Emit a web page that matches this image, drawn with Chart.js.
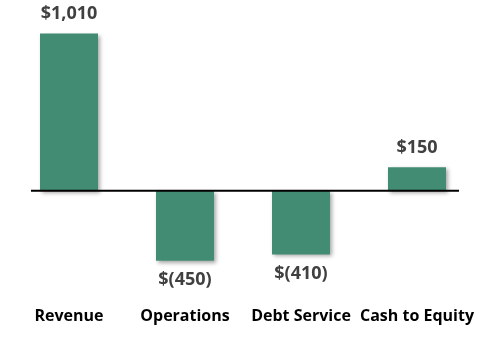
<!DOCTYPE html>
<html>
<head>
<meta charset="utf-8">
<script src="https://cdn.jsdelivr.net/npm/chart.js@4/dist/chart.umd.min.js"></script>
<style>
  html, body { margin: 0; padding: 0; background: #fff; }
  #wrap { width: 500px; height: 346px; }
</style>
</head>
<body>
<div id="wrap"><canvas id="chart" width="500" height="346"></canvas></div>
<script>
// Cash flow breakdown: revenue down to cash left for equity
const categories = ['Revenue', 'Operations', 'Debt Service', 'Cash to Equity'];
const amounts = [1010, -450, -410, 150];

const barColor = '#438c74';

function money(v) {
    const s = Math.abs(v).toLocaleString('en-US');
    return v < 0 ? '$(' + s + ')' : '$' + s;
}

// soft drop shadow under the bars
const barShadow = {
    id: 'barShadow',
    beforeDatasetsDraw(chart) {
        const ctx = chart.ctx;
        ctx.save();
        ctx.shadowColor = 'rgba(0, 0, 0, 0.35)';
        ctx.shadowBlur = 4;
        ctx.shadowOffsetX = 2;
        ctx.shadowOffsetY = 2;
    },
    afterDatasetsDraw(chart) {
        chart.ctx.restore();
    }
};

// black baseline at zero plus the value labels
const baseAndLabels = {
    id: 'baseAndLabels',
    afterDatasetsDraw(chart) {
        const ctx = chart.ctx;
        const area = chart.chartArea;
        const y0 = chart.scales.y.getPixelForValue(0);
        ctx.save();
        ctx.strokeStyle = '#000';
        ctx.lineWidth = 2;
        ctx.beginPath();
        ctx.moveTo(area.left + 20, y0);
        ctx.lineTo(area.right - 16, y0);
        ctx.stroke();

        ctx.fillStyle = '#404040';
        ctx.font = 'bold 18px "Open Sans"';
        ctx.textAlign = 'center';
        ctx.textBaseline = 'middle';
        chart.getDatasetMeta(0).data.forEach((bar, i) => {
            const v = amounts[i];
            const y = v >= 0 ? bar.y - 19.5 : bar.y + 19.5;
            ctx.fillText(money(v), bar.x, y);
        });
        ctx.restore();
    }
};

new Chart(document.getElementById('chart'), {
    type: 'bar',
    data: {
        labels: categories,
        datasets: [{
            data: amounts,
            backgroundColor: barColor,
            borderWidth: 0,
            barPercentage: 1,
            categoryPercentage: 0.5
        }]
    },
    options: {
        responsive: false,
        animation: false,
        layout: { padding: { left: 11, right: 24, top: 4, bottom: 20 } },
        plugins: {
            legend: { display: false },
            tooltip: { enabled: false }
        },
        scales: {
            x: {
                grid: { display: false, drawTicks: false, offset: true },
                border: { display: false },
                afterFit(scale) { scale.height = 42; },
                ticks: {
                    color: '#000',
                    padding: 23,
                    maxRotation: 0,
                    minRotation: 0,
                    autoSkip: false,
                    font: { family: 'Open Sans', size: 16, weight: 'bold' }
                }
            },
            y: {
                display: false,
                min: -600,
                max: 1200
            }
        }
    },
    plugins: [barShadow, baseAndLabels]
});
</script>
</body>
</html>
